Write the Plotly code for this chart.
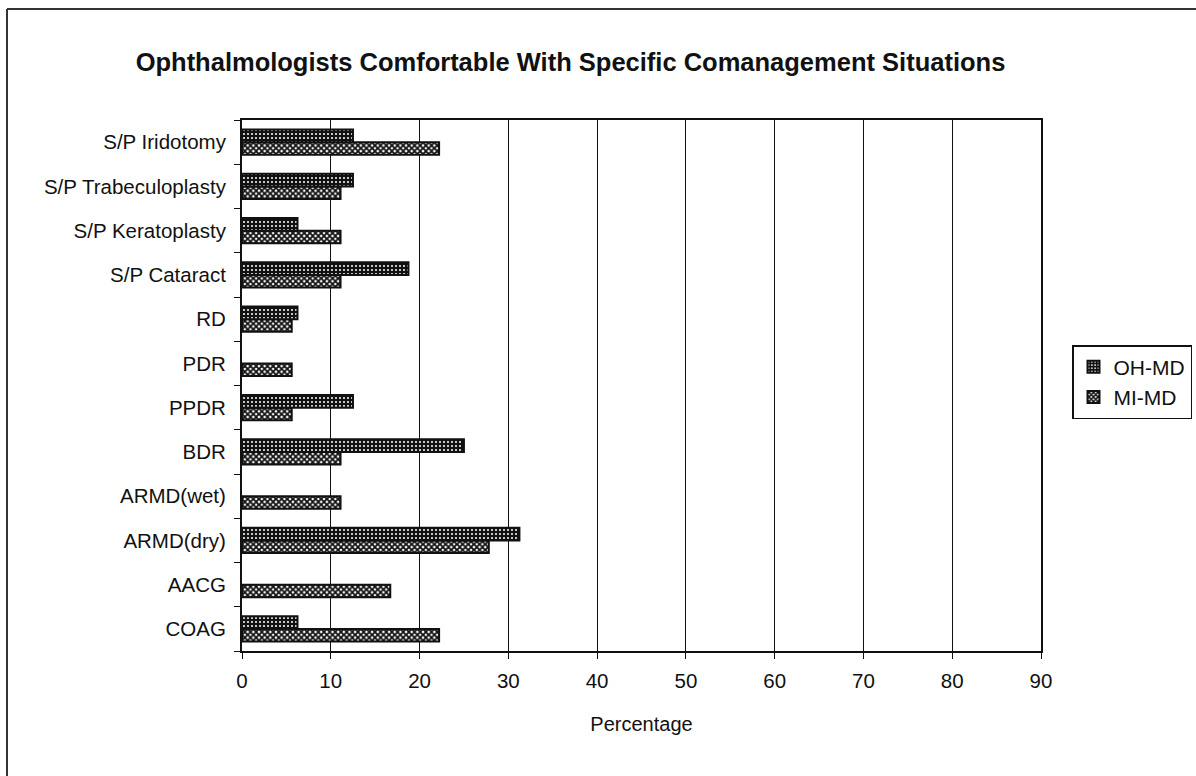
import plotly.graph_objects as go

# Situations, listed bottom to top as they appear on the axis
categories = [
    "COAG", "AACG", "ARMD(dry)", "ARMD(wet)", "BDR", "PPDR", "PDR", "RD",
    "S/P Cataract", "S/P Keratoplasty", "S/P Trabeculoplasty", "S/P Iridotomy",
]
# Percentage of ophthalmologists comfortable with each situation
oh_md = [6.25, 0, 31.25, 0, 25.0, 12.5, 0, 6.25, 18.75, 6.25, 12.5, 12.5]
mi_md = [22.2, 16.7, 27.8, 11.1, 11.1, 5.6, 5.6, 5.6, 11.1, 11.1, 11.1, 22.2]

x_ticks = [0, 10, 20, 30, 40, 50, 60, 70, 80, 90]

FONT = "Arial, Liberation Sans, sans-serif"
INK = "#111111"


def outline_widths(values):
    # no outline on empty bars, so a zero does not leave a stub on the axis
    return [2 if v else 0 for v in values]


fig = go.Figure()

# MI-MD first so it sits below OH-MD inside each group
fig.add_trace(go.Bar(
    y=categories, x=mi_md, name="MI-MD", orientation="h",
    marker=dict(
        color="white",
        line=dict(color=INK, width=outline_widths(mi_md)),
        pattern=dict(shape="x", fgcolor=INK, bgcolor="white",
                     size=4, solidity=0.7, fillmode="replace"),
    ),
))
fig.add_trace(go.Bar(
    y=categories, x=oh_md, name="OH-MD", orientation="h",
    marker=dict(
        color=INK,
        line=dict(color=INK, width=outline_widths(oh_md)),
        pattern=dict(shape=".", fgcolor="#f2f2f2", bgcolor=INK,
                     size=4, solidity=0.22, fillmode="replace"),
    ),
))

fig.update_layout(
    width=1196, height=776,
    margin=dict(l=242, r=155, t=120, b=125, autoexpand=False),
    paper_bgcolor="white", plot_bgcolor="white",
    barmode="group", bargap=0.43, bargroupgap=0,
    font=dict(family=FONT, size=20.5, color=INK),
    title=dict(
        text="Ophthalmologists Comfortable With Specific Comanagement Situations",
        x=0.477, xref="container", xanchor="center",
        y=1 - 62 / 776, yref="container", yanchor="middle",
        font=dict(family=FONT, size=25.5, color=INK, weight="bold"),
    ),
    legend=dict(
        traceorder="reversed",
        xref="container", yref="container",
        x=1072 / 1196, xanchor="left", y=1 - 345 / 776, yanchor="top",
        bordercolor=INK, borderwidth=1.5, bgcolor="white",
        font=dict(family=FONT, size=21, color=INK),
        itemwidth=30, tracegroupgap=4,
    ),
    showlegend=True,
    xaxis=dict(
        range=[0, 90], tickvals=x_ticks, ticktext=[str(v) for v in x_ticks],
        showgrid=True, gridcolor=INK, gridwidth=1,
        showline=True, linecolor=INK, linewidth=2, mirror=True,
        ticks="outside", ticklen=6, tickcolor=INK, tickwidth=1,
        ticklabelstandoff=4,
        zeroline=False,
        title=dict(text="Percentage", standoff=26,
                   font=dict(family=FONT, size=20, color=INK)),
    ),
    yaxis=dict(
        type="category", categoryorder="array", categoryarray=categories,
        showgrid=False,
        showline=True, linecolor=INK, linewidth=2, mirror=True,
        ticks="outside", ticklen=6, tickcolor=INK, tickwidth=1,
        tickson="boundaries", ticklabelstandoff=10,
    ),
)

# Frame lines along the left and top of the chart
frame = dict(color="#333333", width=2)
fig.add_shape(type="line", xref="paper", yref="paper",
              x0=(7 - 242) / 799, x1=(7 - 242) / 799,
              y0=(651 - 790) / 531, y1=(651 - 9) / 531,
              line=frame, layer="below")
fig.add_shape(type="line", xref="paper", yref="paper",
              x0=(7 - 242) / 799, x1=(1210 - 242) / 799,
              y0=(651 - 9) / 531, y1=(651 - 9) / 531,
              line=frame, layer="below")

fig.write_html("out.html")
